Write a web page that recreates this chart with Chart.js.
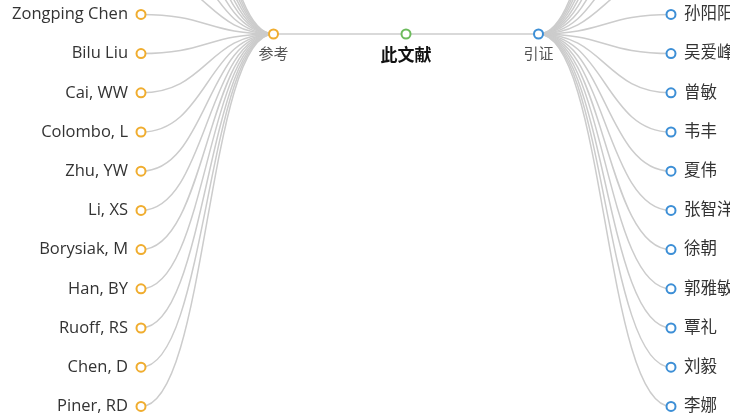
<!DOCTYPE html>
<html lang="zh">
<head>
    <meta charset="UTF-8">
    <title>此文献 参考 / 引证</title>
    <script src="https://cdn.jsdelivr.net/npm/chart.js"></script>
    <style>
        body {
            margin: 0;
            background: #fff;
        }
        #wrap {
            width: 730px;
            height: 416px;
        }
    </style>
</head>
<body>
    <div id="wrap"><canvas id="tree" width="730" height="416"></canvas></div>

    <script>
        // tree data: root with two branches, each with its leaf list
        const rootName = '此文献';
        const branchNames = ['参考', '引证'];
        const branchColors = ['#f0ad2f', '#3d8fd6'];
        const rootColor = '#6cbb5c';

        // leaves sitting above the visible area (names not readable)
        const hiddenAbove = 9;
        const refAuthors = ['Zongping Chen', 'Bilu Liu', 'Cai, WW', 'Colombo, L', 'Zhu, YW', 'Li, XS',
            'Borysiak, M', 'Han, BY', 'Ruoff, RS', 'Chen, D', 'Piner, RD'];
        const citeAuthors = ['孙阳阳', '吴爱峰', '曾敏', '韦丰', '夏伟', '张智洋',
            '徐朝', '郭雅敏', '覃礼', '刘毅', '李娜'];

        const leafFont = '16.5px "Open Sans", "Noto Sans CJK SC", sans-serif';

        // build nodes: x = depth (negative goes left), y = leaf slot
        function leafNodes(names, side) {
            const all = Array(hiddenAbove).fill('').concat(names);
            const total = hiddenAbove * 2 + 2; // parent sits in the middle of its full list
            return all.map((name, i) => ({
                x: 2 * side,
                y: i - (total - 1) / 2,
                name: name,
                color: branchColors[side < 0 ? 0 : 1],
                side: side
            }));
        }

        const root = { x: 0, y: 0, name: rootName, color: rootColor, side: 0 };
        const leftHub = { x: -1, y: 0, name: branchNames[0], color: branchColors[0], side: 0 };
        const rightHub = { x: 1, y: 0, name: branchNames[1], color: branchColors[1], side: 0 };
        const leftLeaves = leafNodes(refAuthors, -1);
        const rightLeaves = leafNodes(citeAuthors, 1);

        const edges = [[root, leftHub], [root, rightHub]]
            .concat(leftLeaves.map(l => [leftHub, l]))
            .concat(rightLeaves.map(l => [rightHub, l]));

        const nodes = [root, leftHub, rightHub].concat(leftLeaves, rightLeaves);

        const edgePlugin = {
            id: 'edges',
            beforeDatasetsDraw(chart) {
                const ctx = chart.ctx;
                const xs = chart.scales.x, ys = chart.scales.y;
                ctx.save();
                ctx.strokeStyle = '#cccccc';
                ctx.lineWidth = 1.5;
                edges.forEach(([a, b]) => {
                    const x1 = xs.getPixelForValue(a.x), y1 = ys.getPixelForValue(a.y);
                    const x2 = xs.getPixelForValue(b.x), y2 = ys.getPixelForValue(b.y);
                    const cx = (x1 + x2) / 2;
                    ctx.beginPath();
                    ctx.moveTo(x1, y1);
                    ctx.bezierCurveTo(cx, y1, cx, y2, x2, y2);
                    ctx.stroke();
                });
                ctx.restore();
            }
        };

        const labelPlugin = {
            id: 'labels',
            afterDatasetsDraw(chart) {
                const ctx = chart.ctx;
                const xs = chart.scales.x, ys = chart.scales.y;
                ctx.save();
                ctx.textBaseline = 'middle';
                nodes.forEach(n => {
                    if (!n.name) return;
                    const px = xs.getPixelForValue(n.x), py = ys.getPixelForValue(n.y);
                    if (n.side !== 0) {
                        ctx.font = leafFont;
                        ctx.fillStyle = '#333';
                        ctx.textAlign = n.side < 0 ? 'right' : 'left';
                        ctx.fillText(n.name, px + 13 * n.side, py);
                    } else if (n === root) {
                        ctx.font = 'bold 17px "Noto Sans CJK SC", sans-serif';
                        ctx.fillStyle = '#111';
                        ctx.textAlign = 'center';
                        ctx.fillText(n.name, px, py + 21);
                    } else {
                        ctx.font = '15px "Noto Sans CJK SC", sans-serif';
                        ctx.fillStyle = '#555';
                        ctx.textAlign = 'center';
                        ctx.fillText(n.name, px, py + 19);
                    }
                });
                ctx.restore();
            }
        };

        new Chart(document.getElementById('tree'), {
            type: 'scatter',
            data: {
                datasets: [{
                    data: nodes.map(n => ({ x: n.x, y: n.y })),
                    pointRadius: 4.5,
                    pointBorderWidth: 2,
                    pointBackgroundColor: '#fff',
                    pointBorderColor: nodes.map(n => n.color),
                    pointHoverRadius: 4.5
                }]
            },
            options: {
                responsive: false,
                animation: false,
                devicePixelRatio: 1,
                layout: { padding: 0, autoPadding: false },
                events: [],
                scales: {
                    x: { type: 'linear', min: -406 / 132.5, max: 324 / 132.5, display: false },
                    y: { type: 'linear', min: -34 / 39.2, max: 382 / 39.2, reverse: true, display: false }
                },
                plugins: {
                    legend: { display: false },
                    tooltip: { enabled: false }
                }
            },
            plugins: [edgePlugin, labelPlugin]
        });
    </script>
</body>
</html>
